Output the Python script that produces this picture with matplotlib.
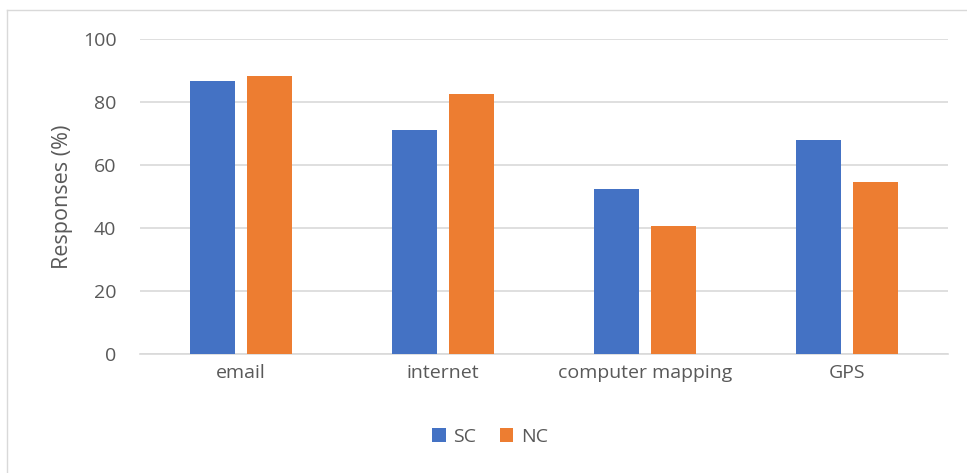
import matplotlib.pyplot as plt
import numpy as np
from matplotlib.lines import Line2D

categories = ['email', 'internet', 'computer mapping', 'GPS']
sc = [86.6, 71.1, 52.3, 67.8]
nc = [88.3, 82.5, 40.6, 54.6]

plt.rcParams['font.family'] = ['Open Sans', 'DejaVu Sans']

W, H = 967, 473
fig = plt.figure(figsize=(W/100, H/100), dpi=100)
ax = fig.add_axes([140/W, 1-354/H, (948-140)/W, (354-39)/H])

x = np.arange(len(categories))
w = 0.225
ax.bar(x-0.14, sc, w, color='#4472c4', label='SC', zorder=3)
ax.bar(x+0.14, nc, w, color='#ed7d31', label='NC', zorder=3)

ax.set_xlim(-0.5, 3.5)
ax.set_ylim(0, 100)
ax.set_yticks(range(0, 101, 20))
ax.set_xticks(x)
ax.set_xticklabels(categories)
ax.grid(axis='y', color='#d9d9d9', linewidth=1.2, zorder=0)
for s in ['top', 'right', 'left']:
    ax.spines[s].set_visible(False)
ax.spines['bottom'].set_color('#d9d9d9')
ax.spines['bottom'].set_linewidth(1.2)
ax.tick_params(axis='x', length=0, colors='#595959', labelsize=14, pad=7)
ax.tick_params(axis='y', length=0, colors='#595959', labelsize=14, pad=17)
ax.set_ylabel('Responses (%)', fontsize=15.5, color='#595959', labelpad=7)

fig.legend(loc='center', bbox_to_anchor=(490/W, 1-437/H), ncol=2, frameon=False,
           fontsize=14, labelcolor='#595959', handlelength=0.7, handleheight=0.7,
           columnspacing=1.2, handletextpad=0.4)

# border of the chart area (only left and top visible in the crop)
fig.add_artist(Line2D([7/W, 7/W], [0, 1-10/H], transform=fig.transFigure, color='#d9d9d9', linewidth=1))
fig.add_artist(Line2D([7/W, 1], [1-10/H, 1-10/H], transform=fig.transFigure, color='#d9d9d9', linewidth=1))

fig.savefig('out.png', dpi=100)
